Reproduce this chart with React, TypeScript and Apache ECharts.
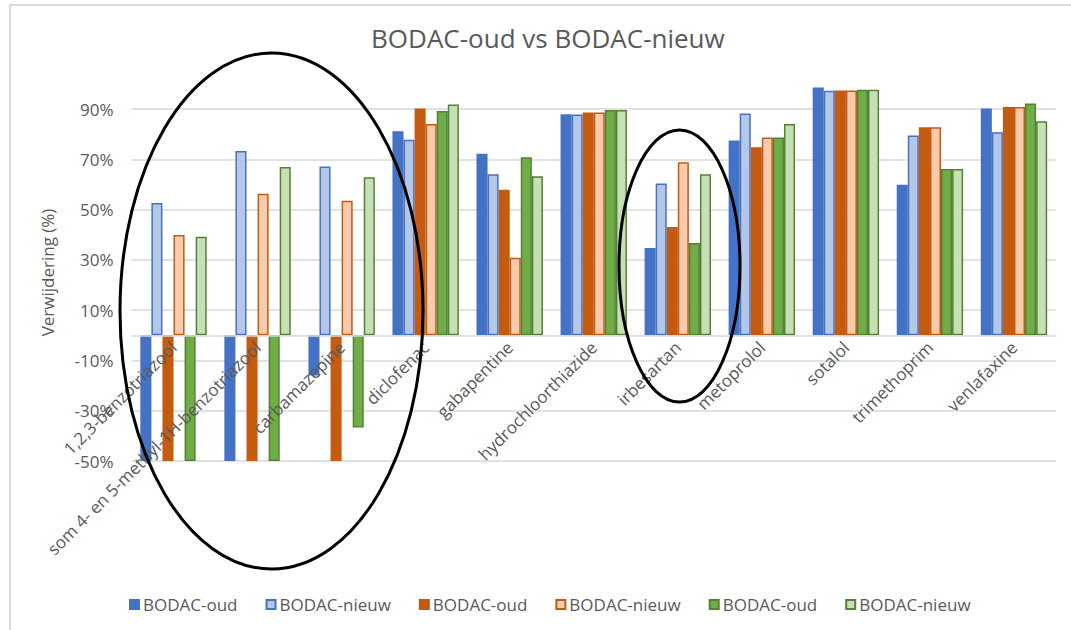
import React, { useEffect, useRef } from "react";
import * as echarts from "echarts";

// Compounds on the category axis
const compounds = [
  "1,2,3-benzotriazool",
  "som 4- en 5-methyl-1H-benzotriazool",
  "carbamazepine",
  "diclofenac",
  "gabapentine",
  "hydrochloorthiazide",
  "irbesartan",
  "metoprolol",
  "sotalol",
  "trimethoprim",
  "venlafaxine",
];

// Removal percentages per measurement set (oud / nieuw)
const set1Oud = [-50, -50, -16, 81.2, 72.2, 88.0, 34.7, 77.5, 98.6, 59.9, 90.3];
const set1Nieuw = [52.7, 73.3, 67.2, 77.8, 64.1, 87.9, 60.4, 88.3, 97.3, 79.5, 80.8];
const set2Oud = [-50, -50, -50, 90.3, 57.9, 88.7, 43.1, 74.8, 97.4, 82.8, 90.8];
const set2Nieuw = [39.9, 56.3, 53.5, 84.1, 30.9, 88.7, 68.9, 78.7, 97.4, 82.8, 90.8];
const set3Oud = [-50, -50, -36.7, 89.3, 70.9, 89.7, 36.7, 78.7, 97.7, 66.2, 92.2];
const set3Nieuw = [39.2, 67.0, 62.9, 91.8, 63.3, 89.7, 64.1, 84.1, 97.7, 66.2, 85.2];

// Value-axis labels / gridlines
const yTicks = [-50, -30, -10, 10, 30, 50, 70, 90];
const Y_MIN = -50;
const Y_MAX = 100;

const FONT = "'Open Sans', 'Noto Sans', sans-serif";
const TEXT = "#595959";
const GRID = "#d9d9d9";

const GRID_TOP = 84;
const GRID_BOTTOM = 169;
const GRID_H = 630 - GRID_TOP - GRID_BOTTOM;
// lift the category axis from the bottom edge up to the 0% line
const ZERO_OFFSET = -((0 - Y_MIN) / (Y_MAX - Y_MIN)) * GRID_H;

const seriesDefs = [
  { name: "BODAC-oud", data: set1Oud, fill: "#4472C4", border: "#4472C4" },
  { name: "BODAC-nieuw", data: set1Nieuw, fill: "#B4C7E7", border: "#4472C4" },
  { name: "BODAC-oud ", data: set2Oud, fill: "#C55A11", border: "#C55A11" },
  { name: "BODAC-nieuw ", data: set2Nieuw, fill: "#F8CBAD", border: "#C55A11" },
  { name: "BODAC-oud  ", data: set3Oud, fill: "#70AD47", border: "#548235" },
  { name: "BODAC-nieuw  ", data: set3Nieuw, fill: "#C5E0B4", border: "#548235" },
];

export default function App() {
  const ref = useRef<HTMLDivElement>(null);

  useEffect(() => {
    if (!ref.current) return;
    const chart = echarts.init(ref.current, undefined, { renderer: "svg" });

    chart.setOption({
      animation: false,
      backgroundColor: "#ffffff",
      title: {
        text: "BODAC-oud vs BODAC-nieuw",
        left: 366,
        top: 20,
        textStyle: { fontFamily: FONT, fontSize: 26, fontWeight: "normal", color: TEXT },
      },
      legend: {
        top: 591,
        left: 124,
        itemWidth: 9,
        itemHeight: 9,
        itemGap: 28,
        icon: "rect",
        formatter: (n: string) => n.trim(),
        textStyle: { fontFamily: FONT, fontSize: 17, color: TEXT, padding: [0, 0, 0, -1] },
        data: seriesDefs.map((s) => s.name),
      },
      grid: {
        left: 131.5,
        right: 15,
        top: GRID_TOP,
        bottom: GRID_BOTTOM,
        outerBoundsMode: "none",
        containLabel: false,
      },
      xAxis: {
        type: "category",
        data: compounds,
        offset: ZERO_OFFSET,
        z: 5,
        axisLine: { onZero: false, lineStyle: { color: GRID, width: 1.5 } },
        axisTick: { show: false },
        axisLabel: {
          interval: 0,
          rotate: 45,
          margin: 9,
          fontFamily: FONT,
          fontSize: 17,
          color: TEXT,
        },
      },
      yAxis: {
        type: "value",
        min: Y_MIN,
        max: Y_MAX,
        interval: 10,
        name: "Verwijdering (%)",
        nameLocation: "middle",
        nameRotate: 90,
        nameGap: 76,
        nameTextStyle: { fontFamily: FONT, fontSize: 17, color: TEXT },
        axisLine: { show: false },
        axisTick: { show: false, customValues: yTicks },
        axisLabel: {
          customValues: yTicks,
          formatter: (v: number) => `${v}%`,
          fontFamily: FONT,
          fontSize: 17,
          color: TEXT,
          margin: 18,
        },
        splitLine: { show: true, lineStyle: { color: GRID, width: 1.5 } },
      },
      series: seriesDefs.map((s) => ({
        name: s.name,
        type: "bar",
        data: s.data,
        barGap: "0%",
        barCategoryGap: "21%",
        itemStyle: { color: s.fill, borderColor: s.border, borderWidth: 1.5 },
      })),
      graphic: [
        {
          type: "polyline",
          shape: { points: [[10, 630], [10, 5], [1071, 5]] },
          style: { fill: "none", stroke: GRID, lineWidth: 2 },
          silent: true,
        },
        {
          type: "ellipse",
          shape: { cx: 271.5, cy: 311, rx: 151.5, ry: 258 },
          style: { fill: "none", stroke: "#000000", lineWidth: 3 },
          silent: true,
          z: 100,
        },
        {
          type: "ellipse",
          shape: { cx: 679.5, cy: 266, rx: 60.5, ry: 136 },
          style: { fill: "none", stroke: "#000000", lineWidth: 3 },
          silent: true,
          z: 100,
        },
      ],
    });

    return () => chart.dispose();
  }, []);

  return (
    <div
      ref={ref}
      style={{ position: "fixed", left: 0, top: 0, width: 1071, height: 630 }}
    />
  );
}
